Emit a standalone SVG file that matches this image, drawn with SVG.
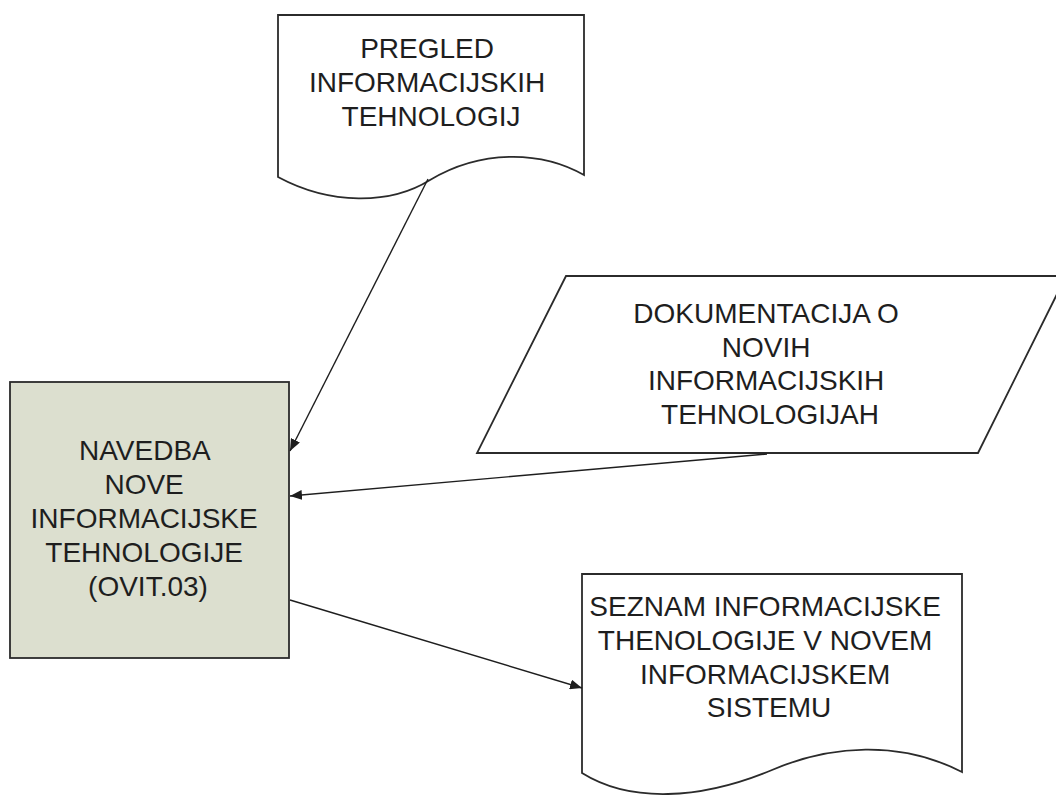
<svg xmlns="http://www.w3.org/2000/svg" width="1056" height="798" viewBox="0 0 1056 798">
  <style>
    .shape { fill: #ffffff; stroke: #2b2b2b; stroke-width: 1.8; }
    .proc { fill: #dcdfcf; stroke: #2b2b2b; stroke-width: 1.8; }
    .label { font-family: "Liberation Sans", Arial, sans-serif; font-size: 28px; fill: #1e1e1e; text-anchor: middle; }
    .link { stroke: #1e1e1e; stroke-width: 1.4; fill: none; marker-end: url(#arrow); }
  </style>
  <defs>
    <marker id="arrow" viewBox="0 0 12 10" refX="12" refY="5" markerWidth="12" markerHeight="10" markerUnits="userSpaceOnUse" orient="auto">
      <path d="M0,0 L12,5 L0,10 Z" fill="#1e1e1e"/>
    </marker>
  </defs>
  <rect width="1056" height="798" fill="#ffffff"/>

  <!-- Document: review of information technologies -->
  <g id="pregled">
    <path class="shape" d="M278,15 H584 V175 C540,150 480,150 430,180 C390,205 330,205 278,177 Z"/>
    <text class="label">
      <tspan x="431" y="58">PREGLED</tspan>
      <tspan x="431" y="92">INFORMACIJSKIH</tspan>
      <tspan x="431" y="126">TEHNOLOGIJ</tspan>
    </text>
  </g>

  <!-- Data: documentation about new technologies -->
  <g id="dokumentacija">
    <path class="shape" d="M566,276 H1066 L978,453 H477 Z"/>
    <text class="label">
      <tspan x="770" y="323">DOKUMENTACIJA O</tspan>
      <tspan x="770" y="357">NOVIH</tspan>
      <tspan x="770" y="390">INFORMACIJSKIH</tspan>
      <tspan x="770" y="424">TEHNOLOGIJAH</tspan>
    </text>
  </g>

  <!-- Process -->
  <g id="navedba">
    <rect class="proc" x="10" y="382" width="279" height="276"/>
    <text class="label">
      <tspan x="148" y="460">NAVEDBA</tspan>
      <tspan x="148" y="494">NOVE</tspan>
      <tspan x="148" y="528">INFORMACIJSKE</tspan>
      <tspan x="148" y="562">TEHNOLOGIJE</tspan>
      <tspan x="148" y="596">(OVIT.03)</tspan>
    </text>
  </g>

  <!-- Document: resulting list -->
  <g id="seznam">
    <path class="shape" d="M582,574 H962 V772 C900,740 830,745 772,770 C700,800 630,803 582,773 Z"/>
    <text class="label">
      <tspan x="769" y="616">SEZNAM INFORMACIJSKE</tspan>
      <tspan x="769" y="650">THENOLOGIJE V NOVEM</tspan>
      <tspan x="769" y="684">INFORMACIJSKEM</tspan>
      <tspan x="769" y="717">SISTEMU</tspan>
    </text>
  </g>

  <g id="connectors">
    <line class="link" x1="428" y1="179" x2="290" y2="451"/>
    <line class="link" x1="767" y1="454" x2="290" y2="496"/>
    <line class="link" x1="290" y1="600" x2="582" y2="688"/>
  </g>
</svg>
